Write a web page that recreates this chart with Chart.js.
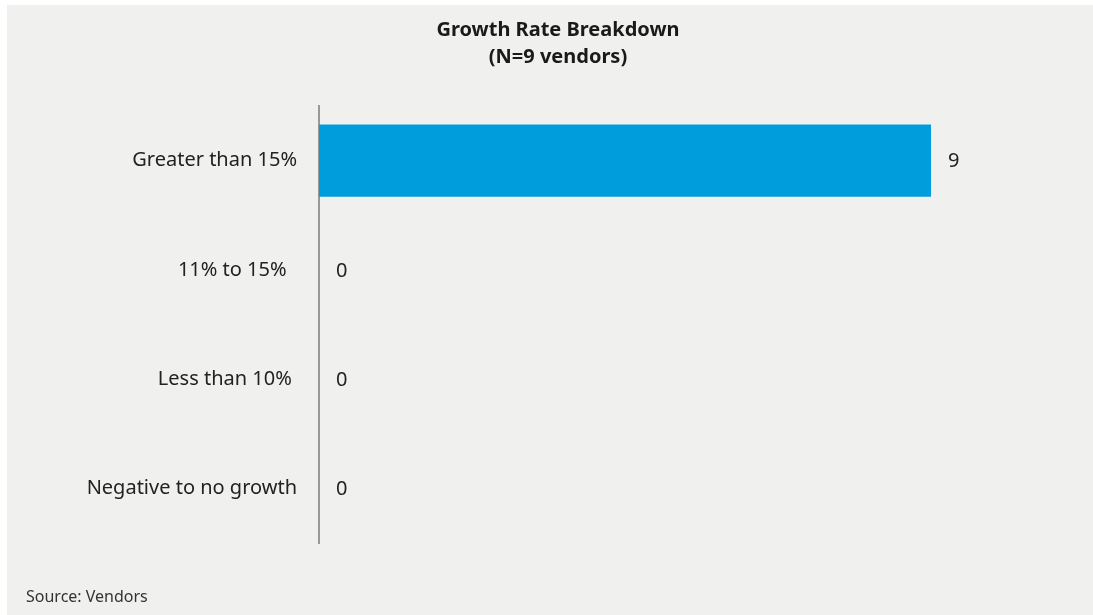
<!DOCTYPE html>
<html>
<head>
<meta charset="utf-8">
<script src="https://cdn.jsdelivr.net/npm/chart.js@4"></script>
<style>
  html, body { margin: 0; padding: 0; background: #ffffff; }
  .panel {
    position: absolute; left: 7px; top: 5px;
    width: 1086px; height: 610px;
    background: #f0f0ef;
  }
  .panel canvas { position: absolute; left: 0; top: 0; }
  .title {
    position: absolute; left: 0; top: 10px; width: 1102px;
    text-align: center; line-height: 29px;
    font: bold 20px "Noto Sans", sans-serif; color: #1a1a1a;
  }
  .source {
    position: absolute; left: 19px; top: 580px;
    font: 16px "Noto Sans", sans-serif; color: #333;
  }
</style>
</head>
<body>
<div class="panel">
  <canvas id="growth-chart" width="1086" height="610"></canvas>
  <div class="title" id="chart-title"></div>
  <div class="source">Source: Vendors</div>
</div>
<script>
/* Growth rate breakdown — horizontal bars with value labels */

const categories = ['Greater than 15%', '11% to 15%  ', 'Less than 10% ', 'Negative to no growth'];
const vendorCounts = [9, 0, 0, 0];
const titleLines = ['Growth Rate Breakdown', '(N=9 vendors)'];

const FONT = '"Noto Sans", sans-serif';

document.getElementById('chart-title').innerHTML = titleLines.join('<br>');

// value printed just past the end of each bar
const valueLabels = {
  id: 'valueLabels',
  afterDatasetsDraw(chart) {
    const ctx = chart.ctx;
    const meta = chart.getDatasetMeta(0);
    ctx.save();
    ctx.font = '20px ' + FONT;
    ctx.fillStyle = '#222';
    ctx.textAlign = 'left';
    ctx.textBaseline = 'middle';
    meta.data.forEach(function (bar, i) {
      ctx.fillText(String(vendorCounts[i]), bar.x + 17, bar.y + 1);
    });
    ctx.restore();
  }
};

new Chart(document.getElementById('growth-chart'), {
  type: 'bar',
  data: {
    labels: categories,
    datasets: [{
      data: vendorCounts,
      backgroundColor: '#009ddc',
      borderWidth: 0,
      categoryPercentage: 1,
      barPercentage: 0.66,
    }],
  },
  plugins: [valueLabels],
  options: {
    indexAxis: 'y',
    responsive: false,
    animation: false,
    layout: { padding: { left: 0, right: 94, top: 101, bottom: 72 } },
    plugins: {
      legend: { display: false },
      tooltip: { enabled: false },
      title: { display: false },
    },
    scales: {
      x: {
        display: false,
        min: 0,
        max: 10,
      },
      y: {
        grid: { display: false, drawTicks: false },
        border: { display: true, color: '#999', width: 2 },
        ticks: {
          color: '#222',
          padding: 22,
          font: { family: FONT, size: 20 },
        },
        afterFit: function (scale) { scale.width = 312; },
      },
    },
  },
});
</script>
</body>
</html>
